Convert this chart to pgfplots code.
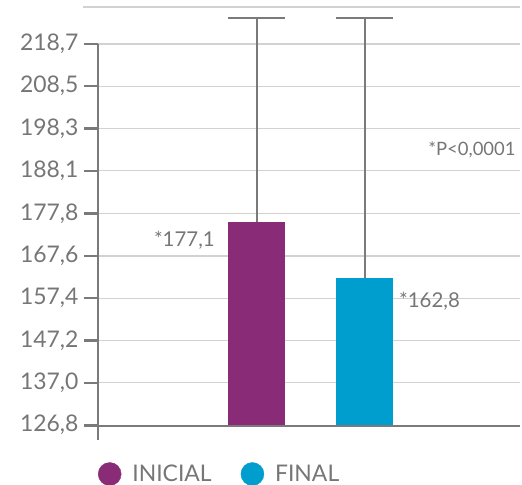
\documentclass[border=0pt]{standalone}
\usepackage{fontspec}
\setmainfont{Lato}
\usepackage{pgfplots}
\pgfplotsset{compat=1.18}
\definecolor{cpur}{HTML}{8A2B78}
\definecolor{cblu}{HTML}{009ECE}
\definecolor{txt}{HTML}{767676}
\definecolor{axc}{HTML}{7A7A7A}
\definecolor{grd}{HTML}{D2D2D2}
\begin{document}
\begin{tikzpicture}
\begin{axis}[
  scale only axis, width=422bp, height=419bp,
  xmin=-0.468, xmax=3.44, ymin=126.6, ymax=227.6,
  axis line style={draw=none},
  xtick=\empty,
  ytick={126.8,137.0,147.2,157.4,167.6,177.8,188.1,198.3,208.5,218.7},
  yticklabels={{126,8},{137,0},{147,2},{157,4},{167,6},{177,8},{188,1},{198,3},{208,5},{218,7}},
  ytick pos=left, tick align=outside, major tick length=14bp,
  tick style={axc, line width=2.5bp},
  ymajorgrids, grid style={grd, line width=1.2bp},
  yticklabel style={txt, font=\fontsize{23}{27}\selectfont, xshift=-2bp},
  legend columns=2,
  legend style={draw=none, fill=none, inner sep=0pt, outer sep=0pt,
    at={(0,-0.1146)}, anchor=west, font=\fontsize{23}{27}\selectfont, text=txt,
    /tikz/every odd column/.append style={column sep=9bp},
    /tikz/every even column/.append style={column sep=27bp}},
  error bars/error bar style={axc, line width=2bp},
  error bars/error mark options={rotate=90, mark size=28.5bp, axc, line width=2bp},
]
\addplot[ybar, bar width=57bp, bar shift=0pt, fill=cpur, draw=none, forget plot,
  error bars/.cd, y dir=plus, y explicit]
  coordinates {(1,175.8) +- (0,49.2)};
\addplot[ybar, bar width=57bp, bar shift=0pt, fill=cblu, draw=none, forget plot,
  error bars/.cd, y dir=plus, y explicit]
  coordinates {(2,162.2) +- (0,62.8)};
\addlegendimage{legend image code/.code={\fill[cpur] (11.5bp,0bp) circle (11.5bp);}}
\addlegendentry{INICIAL}
\addlegendimage{legend image code/.code={\fill[cblu] (11.5bp,0bp) circle (11.5bp);}}
\addlegendentry{FINAL}
\node[anchor=east, inner sep=0pt, txt, font=\fontsize{20.5}{24}\selectfont] at (axis cs:0.615,171.4) {*177,1};
\node[anchor=west, inner sep=0pt, txt, font=\fontsize{20.5}{24}\selectfont] at (axis cs:2.319,156.8) {*162,8};
\node[anchor=center, inner sep=0pt, txt, font=\fontsize{18.5}{22}\selectfont] at (axis cs:2.995,193.1) {*P<0,0001};
\coordinate (O) at (rel axis cs:0,0);
\coordinate (ytop) at (axis cs:-0.468,218.7);
\coordinate (ybot) at (axis cs:-0.468,123.2);
\coordinate (xl) at (axis cs:-0.598,126.6);
\coordinate (xr) at (axis cs:3.44,126.6);
\coordinate (tl) at (axis cs:-0.607,227.6);
\coordinate (tr) at (axis cs:3.44,227.6);
\end{axis}
\draw[grd, line width=1.2bp] (tl)--(tr);
\draw[axc, line width=2.5bp] (ytop)--(ybot);
\draw[axc, line width=2.5bp] (xl)--(xr);
\pgfresetboundingbox
\path ([shift={(-98bp,-59bp)}]O) rectangle ([shift={(424bp,426bp)}]O);
\end{tikzpicture}
\end{document}
